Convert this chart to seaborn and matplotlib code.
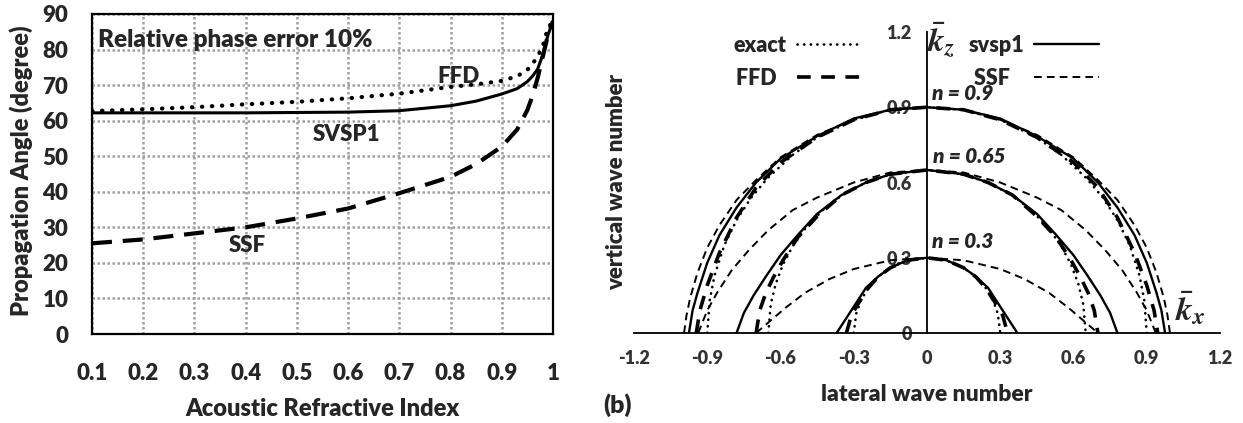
import numpy as np
import pandas as pd
import matplotlib
matplotlib.use('Agg')
import matplotlib.pyplot as plt
import seaborn as sns

# ---- (a) propagation angle vs acoustic refractive index ----
index = [0.1, 0.2, 0.3, 0.4, 0.5, 0.6, 0.7, 0.8, 0.85, 0.9, 0.93, 0.95, 0.96, 0.97, 0.98, 0.99, 1.0]
ffd_angle = [62.7, 63.2, 63.8, 64.6, 65.3, 66.3, 67.6, 69.5, 70.2, 71.2, 72.5, 74.3, 76.0, 78.0, 81.0, 86.0, 88.0]
svsp1_angle = [62.2, 62.2, 62.2, 62.2, 62.3, 62.4, 62.8, 64.2, 65.5, 67.5, 69.0, 71.0, 72.5, 74.5, 78.5, 84.0, 88.0]
ssf_angle = [25.5, 26.6, 28.3, 30.0, 32.5, 35.3, 39.6, 44.2, 47.8, 52.7, 57.5, 63.0, 67.0, 72.0, 78.0, 84.0, 88.0]
index_ticks = [0.1, 0.2, 0.3, 0.4, 0.5, 0.6, 0.7, 0.8, 0.9, 1.0]
index_labels = ['0.1', '0.2', '0.3', '0.4', '0.5', '0.6', '0.7', '0.8', '0.9', '1']
angle_ticks = [0, 10, 20, 30, 40, 50, 60, 70, 80, 90]

# ---- (b) dispersion curves, right half (kx >= 0), mirrored for kx < 0 ----
# n = 0.9
kx_exact_09 = [0, .15, .3, .45, .55, .65, .72, .78, .83, .87, .89, .9]
kz_exact_09 = [.90, .89, .85, .78, .71, .62, .54, .45, .35, .23, .13, 0]
kx_svsp_09 = [0, .15, .3, .45, .6, .7, .78, .85, .9, .94, .96, .975]
kz_svsp_09 = [.90, .89, .855, .785, .695, .60, .50, .39, .28, .16, .09, 0]
kx_ffd_09 = [0, .15, .3, .45, .6, .7, .78, .85, .9, .93, .945]
kz_ffd_09 = [.90, .89, .85, .78, .68, .58, .46, .32, .19, .09, 0]
kx_ssf_09 = [0, .15, .3, .45, .6, .7, .78, .85, .9, .94, .97, .985, .995]
kz_ssf_09 = [.90, .89, .85, .79, .70, .61, .53, .43, .34, .24, .14, .07, 0]
# n = 0.65
kx_exact_065 = [0, .15, .25, .35, .43, .5, .55, .59, .62, .64, .65]
kz_exact_065 = [.65, .632, .60, .548, .487, .415, .346, .273, .195, .114, 0]
kx_svsp_065 = [0, .15, .25, .35, .45, .53, .6, .66, .71, .75, .78]
kz_svsp_065 = [.65, .633, .60, .55, .475, .39, .31, .225, .15, .08, 0]
kx_ffd_065 = [0, .15, .25, .35, .45, .53, .59, .63, .66, .685, .70]
kz_ffd_065 = [.65, .633, .60, .55, .465, .38, .29, .22, .16, .09, 0]
kx_ssf_065 = [0, .15, .3, .45, .55, .65, .73, .8, .86, .9, .937]
kz_ssf_065 = [.65, .64, .60, .54, .49, .41, .33, .25, .16, .09, 0]
# n = 0.3
kx_exact_03 = [0, .08, .15, .2, .24, .27, .29, .3]
kz_exact_03 = [.30, .289, .26, .224, .18, .131, .077, 0]
kx_svsp_03 = [0, .08, .15, .2, .25, .29, .33, .37]
kz_svsp_03 = [.30, .29, .26, .225, .18, .12, .06, 0]
kx_ffd_03 = [0, .08, .15, .2, .24, .28, .31, .33]
kz_ffd_03 = [.30, .29, .26, .224, .18, .12, .07, 0]
kx_ssf_03 = [0, .15, .3, .4, .5, .58, .64, .7]
kz_ssf_03 = [.30, .29, .255, .215, .16, .10, .05, 0]

kx_ticks = [-1.2, -0.9, -0.6, -0.3, 0, 0.3, 0.6, 0.9, 1.2]
kx_labels = ['-1.2', '-0.9', '-0.6', '-0.3', '0', '0.3', '0.6', '0.9', '1.2']
kz_ticks = [0, 0.3, 0.6, 0.9, 1.2]
kz_labels = ['0', '0.3', '0.6', '0.9', '1.2']
kz_minor = [0.15, 0.45, 0.75, 1.05]


def full_curve(kx, kz):
    # symmetric about kx = 0
    x = [-v for v in kx[:0:-1]] + list(kx)
    z = list(kz[:0:-1]) + list(kz)
    return pd.DataFrame({'kx': x, 'kz': z})


sns.set_style('white')
plt.rcParams['font.family'] = ['Lato', 'DejaVu Sans']
plt.rcParams['font.weight'] = 'heavy'
plt.rcParams['axes.labelweight'] = 'heavy'
plt.rcParams['mathtext.fontset'] = 'stix'

W, H = 1243, 423
fig = plt.figure(figsize=(W / 100, H / 100), dpi=100)

# ---------------- left panel ----------------
ax1 = fig.add_axes([92 / W, 1 - 334 / H, (553 - 92) / W, 320 / H])
ax1.set_axisbelow(True)
ax1.grid(True, color='#a0a0a0', linestyle=(0, (1, 1)), linewidth=1.8)
sns.lineplot(x=index, y=svsp1_angle, ax=ax1, color='black', linewidth=2.2)
sns.lineplot(x=index, y=ffd_angle, ax=ax1, color='black', linewidth=3,
             linestyle=(0, (0.1, 2.3)), dash_capstyle='round')
sns.lineplot(x=index, y=ssf_angle, ax=ax1, color='black', linewidth=3,
             linestyle=(0, (4.8, 2.6)))
ax1.set_xlim(0.1, 1.0)
ax1.set_ylim(0, 90)
ax1.set_xticks(index_ticks)
ax1.set_xticklabels(index_labels)
ax1.set_yticks(angle_ticks)
ax1.tick_params(axis='both', length=0, labelsize=16)
ax1.tick_params(axis='x', pad=21)
ax1.tick_params(axis='y', pad=17)
for s in ax1.spines.values():
    s.set_linewidth(1.6)
    s.set_color('black')
ax1.set_xlabel('Acoustic Refractive Index', fontsize=17)
ax1.set_ylabel('Propagation Angle (degree)', fontsize=17)
ax1.xaxis.set_label_coords(0.5, -0.2)
ax1.yaxis.set_label_coords(-0.128, 0.51)
ax1.text(0.112, 82.7, 'Relative phase error 10%', fontsize=17.5, va='center')
ax1.text(0.775, 72.3, 'FFD', fontsize=16, va='center')
ax1.text(0.531, 56.0, 'SVSP1', fontsize=16, va='center')
ax1.text(0.366, 24.8, 'SSF', fontsize=16, va='center')

# ---------------- right panel ----------------
ax2 = fig.add_axes([634 / W, 1 - 333 / H, (1220 - 634) / W, 301 / H])
styles = {
    'exact': dict(linewidth=1.9, linestyle=(0, (0.1, 2.4)), dash_capstyle='round'),
    'FFD': dict(linewidth=2.6, linestyle=(0, (3.8, 2.9))),
    'svsp1': dict(linewidth=1.7, linestyle='-'),
    'SSF': dict(linewidth=1.4, linestyle=(0, (4.0, 2.6))),
}
curves = [
    ('exact', kx_exact_09, kz_exact_09), ('exact', kx_exact_065, kz_exact_065), ('exact', kx_exact_03, kz_exact_03),
    ('FFD', kx_ffd_09, kz_ffd_09), ('FFD', kx_ffd_065, kz_ffd_065), ('FFD', kx_ffd_03, kz_ffd_03),
    ('svsp1', kx_svsp_09, kz_svsp_09), ('svsp1', kx_svsp_065, kz_svsp_065), ('svsp1', kx_svsp_03, kz_svsp_03),
    ('SSF', kx_ssf_09, kz_ssf_09), ('SSF', kx_ssf_065, kz_ssf_065), ('SSF', kx_ssf_03, kz_ssf_03),
]
seen = set()
for name, kx, kz in curves:
    lab = name if name not in seen else None
    seen.add(name)
    sns.lineplot(data=full_curve(kx, kz), x='kx', y='kz', ax=ax2, color='black',
                 sort=False, label=lab, **styles[name])

ax2.set_xlim(-1.2, 1.2)
ax2.set_ylim(0, 1.2)
ax2.spines['left'].set_position(('data', 0))
ax2.spines['top'].set_visible(False)
ax2.spines['right'].set_visible(False)
for s in ('left', 'bottom'):
    ax2.spines[s].set_linewidth(1.3)
    ax2.spines[s].set_color('black')
ax2.set_xticks(kx_ticks)
ax2.set_xticklabels(kx_labels)
ax2.set_yticks(kz_ticks)
ax2.set_yticklabels(kz_labels)
ax2.set_yticks(kz_minor, minor=True)
ax2.tick_params(axis='both', which='both', direction='out', length=4, width=1.2,
                labelsize=13, colors='black', labelcolor='#333333')
ax2.tick_params(axis='x', pad=8)
ax2.tick_params(axis='y', pad=7)
ax2.set_xlabel('lateral wave number', fontsize=16.5)
ax2.set_ylabel('vertical wave number', fontsize=16)
ax2.xaxis.set_label_coords(0.5, -0.168)
ax2.yaxis.set_label_coords(-0.012, 0.5)

handles, labels = ax2.get_legend_handles_labels()
pad = {'exact': '', 'FFD': '  ', 'svsp1': '', 'SSF': '   '}
labels = [l + pad[l] for l in labels]
ax2.legend(handles, labels, ncol=2, markerfirst=False, frameon=False, fontsize=15.5,
           handlelength=3.0, handletextpad=0.45, columnspacing=5.0, labelspacing=0.55,
           borderpad=0, borderaxespad=0, loc='upper left',
           bbox_to_anchor=(734 / W, 1 - 35 / H), bbox_transform=fig.transFigure)

ax2.text(0.02, 0.955, 'n = 0.9', fontsize=15, style='italic', va='center')
ax2.text(0.025, 0.704, 'n = 0.65', fontsize=15, style='italic', va='center')
ax2.text(0.02, 0.364, 'n = 0.3', fontsize=15, style='italic', va='center')
ax2.text(0.06, 1.165, r'$\bar{k}_z$', fontsize=24, ha='center', va='center')
ax2.text(1.08, 0.10, r'$\bar{k}_x$', fontsize=24, ha='center', va='center')

fig.text(603 / W, 1 - 405 / H, '(b)', fontsize=18, va='center')

fig.savefig('out.png', dpi=100)
